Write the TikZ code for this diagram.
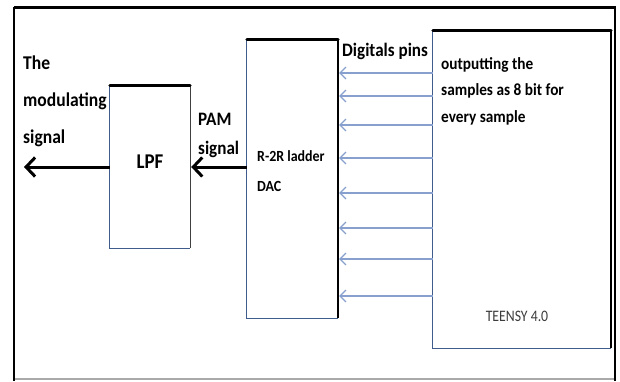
\documentclass[tikz,border=0pt]{standalone}
\usepackage{fontspec}
\setmainfont{Carlito}
\newfontfamily\lblfont[FakeStretch=0.9]{Carlito}
\newfontfamily\teensyfont[FakeStretch=0.86]{Carlito}
\usetikzlibrary{arrows.meta}
\definecolor{edgeblue}{RGB}{62,92,140}
\definecolor{pinblue}{RGB}{135,160,205}
\definecolor{framegray}{RGB}{170,170,170}
\definecolor{txtgray}{RGB}{60,60,60}
\tikzset{
  boxn/.style={rectangle, inner sep=0pt, draw=none},
  bluedge/.style={draw=edgeblue, line width=1.3pt, line join=miter},
  topedge/.style={draw=black, line width=3pt, line cap=round},
  rightthick/.style={draw=black, line width=2.5pt},
  rightthin/.style={draw=black!75, line width=1.2pt},
  bigarrow/.style={draw=black, line width=3pt, -{Straight Barb[length=9pt,width=19pt]}},
  pinarrow/.style={draw=pinblue, line width=1.2pt, -{Straight Barb[length=6pt,width=12pt,line width=1.1pt]}},
  bold lbl/.style={inner sep=0pt, anchor=base west, align=left, font=\lblfont\bfseries},
}
\begin{document}
\begin{tikzpicture}[x=1pt,y=-1pt]
\useasboundingbox (0,0) rectangle (620,381);
\fill[white] (0,0) rectangle (620,381);
% outer frame
\draw[framegray, line width=1.5pt] (14,379) -- (615,379);
\draw[black, line width=2.2pt] (14,7) -- (14,381);
\draw[black, line width=1.6pt] (615,7) -- (615,381);
\draw[black, line width=3.5pt] (14,7.5) -- (616,7.5);

% boxes
\node[boxn, minimum width=80pt, minimum height=162pt] (lpf) at (150,167) {};
\node[boxn, minimum width=91pt, minimum height=278pt] (dac) at (292.5,179) {};
\node[boxn, minimum width=178pt, minimum height=317pt] (teensy) at (522,189.5) {};

% LPF edges
\draw[bluedge] (lpf.north west) -- (lpf.south west) -- (lpf.south east);
\draw[rightthin] (lpf.south east) -- (lpf.north east);
\draw[topedge] (lpf.north west) -- (lpf.north east);
% DAC edges
\draw[bluedge] (dac.north west) -- (dac.south west) -- (dac.south east);
\draw[rightthick] (dac.south east) -- (dac.north east);
\draw[topedge] (dac.north west) -- (dac.north east);
% Teensy edges
\draw[bluedge] (teensy.north west) -- (teensy.south west) -- (teensy.south east);
\draw[rightthick, line width=2.2pt] (teensy.south east) -- (teensy.north east);
\draw[topedge] (teensy.north west) -- (teensy.north east);

% arrows
\coordinate (outtip) at (24,167);
\draw[bigarrow] (lpf.west) -- (outtip);
\draw[bigarrow] (lpf.east -| dac.west) -- ([xshift=1pt]lpf.east);
\foreach \yy in {73,96,125,158,193,228,259,296}{
  \draw[pinarrow] (teensy.west |- 0,\yy) -- ([xshift=1pt]dac.east |- 0,\yy);
}

% labels (base anchor of a multi-line node = baseline of its last line)
\node[bold lbl, font=\lblfont\bfseries\fontsize{19.5}{37}\selectfont] (modlbl) at (23,143) {The\\modulating\\signal};
\node[bold lbl, font=\lblfont\bfseries\fontsize{19}{29}\selectfont] (pamlbl) at (198,154) {PAM\\signal};
\node[inner sep=0pt, anchor=base, font=\lblfont\bfseries\fontsize{21}{24}\selectfont] (lpflbl) at (150,168) {LPF};
\node[bold lbl, font=\lblfont\bfseries\fontsize{15.5}{30}\selectfont] (daclbl) at (257,191.5) {R-2R ladder\\DAC};
\node[bold lbl, font=\lblfont\bfseries\fontsize{19}{24}\selectfont] (pinslbl) at (342,56) {Digitals pins};
\node[bold lbl, font=\lblfont\bfseries\fontsize{17}{26.5}\selectfont] (outlbl) at (441,122) {outputting the\\samples as 8 bit for\\every sample};
\node[inner sep=0pt, anchor=base, text=txtgray, font=\teensyfont\fontsize{16}{19}\selectfont] (teensylbl) at (517,321.5) {TEENSY 4.0};
\end{tikzpicture}
\end{document}
